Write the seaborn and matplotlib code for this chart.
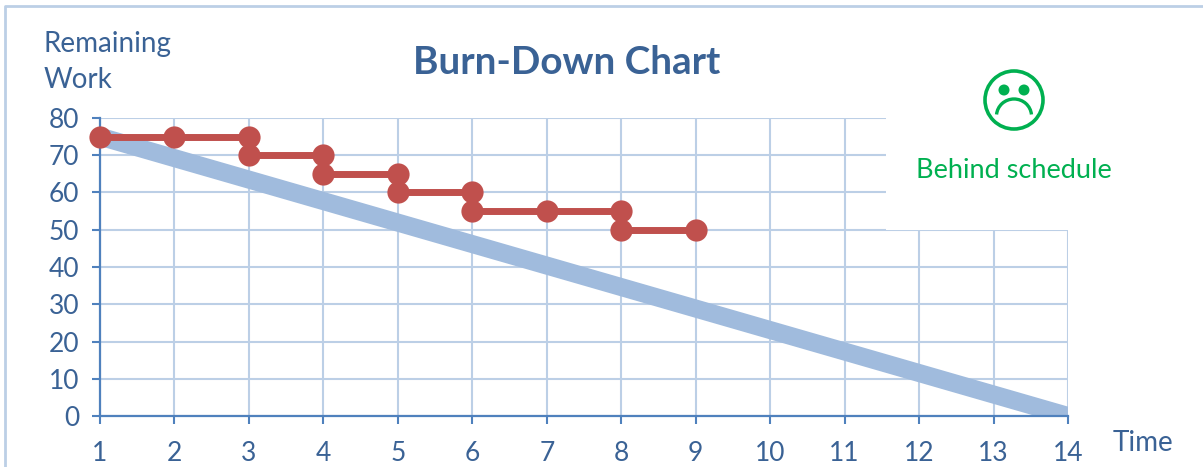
import matplotlib
matplotlib.use('Agg')
import matplotlib.pyplot as plt
from matplotlib.patches import Arc, Circle, Rectangle
import pandas as pd
import seaborn as sns

# Data
plan_time = [1, 14]
plan_work = [75, 0]
actual_time = [1, 2, 3, 3, 4, 4, 5, 5, 6, 6, 7, 8, 8, 9]
actual_work = [75, 75, 75, 70, 70, 65, 65, 60, 60, 55, 55, 55, 50, 50]
actual_step = [0, 0, 0, 1, 1, 2, 2, 3, 3, 4, 4, 4, 5, 5]
x_ticks = list(range(1, 15))
y_ticks = list(range(0, 81, 10))

W, H = 1203, 467
TEXT = '#3A6295'
AXIS = '#4F81BD'
GRID = '#BCCFE6'
GREEN = '#00B050'

sns.set_style('white')
plt.rcParams['font.family'] = ['Lato', 'DejaVu Sans']

plan = pd.DataFrame({'time': plan_time, 'work': plan_work})
actual = pd.DataFrame({'time': actual_time, 'work': actual_work, 'step': actual_step})

fig = plt.figure(figsize=(W / 100, H / 100), dpi=100)
ax = fig.add_axes([100 / W, 1 - 416 / H, 968 / W, 298 / H])

sns.lineplot(data=plan, x='time', y='work', color='#A0BBDD', linewidth=13, ax=ax,
             solid_capstyle='butt', zorder=2)
sns.lineplot(data=actual, x='time', y='work', units='step', estimator=None, color='#C0504D',
             linewidth=5, marker='o', markersize=16, markeredgewidth=0, ax=ax,
             clip_on=False, zorder=3)

ax.set_xlim(1, 14)
ax.set_ylim(0, 80)
ax.set_xticks(x_ticks)
ax.set_yticks(y_ticks)
ax.set_xlabel('')
ax.set_ylabel('')
ax.grid(True, color=GRID, linewidth=1.5, zorder=1)
ax.set_axisbelow(True)
for side in ['top', 'right']:
    ax.spines[side].set_visible(False)
for side in ['left', 'bottom']:
    ax.spines[side].set_color(AXIS)
    ax.spines[side].set_linewidth(1.6)
ax.tick_params(axis='both', length=6, width=1.5, color=AXIS, labelcolor=TEXT, labelsize=19,
               left=True, bottom=True)
ax.tick_params(axis='x', pad=12)
ax.tick_params(axis='y', pad=9)

# overlay in picture pixels for the frame, the white box and the smiley
over = fig.add_axes([0, 0, 1, 1], facecolor='none')
over.set_xlim(0, W)
over.set_ylim(H, 0)
over.axis('off')

over.add_patch(Rectangle((886, 7), 200, 222.5, facecolor='white', edgecolor='none', zorder=1))
over.plot([5, 5, W], [H, 6, 6], color=GRID, linewidth=2, zorder=2)

over.add_patch(Circle((1014, 100), 29, facecolor='none', edgecolor=GREEN, linewidth=2.6, zorder=3))
over.add_patch(Circle((1004, 90), 5.5, facecolor=GREEN, edgecolor='none', zorder=3))
over.add_patch(Circle((1024, 90), 5.5, facecolor=GREEN, edgecolor='none', zorder=3))
over.add_patch(Arc((1014, 116), 35, 34, theta1=185, theta2=355, color=GREEN, linewidth=2.4, zorder=3))

over.text(567, 62, 'Burn-Down Chart', color=TEXT, fontsize=27.8, fontweight='bold', ha='center', va='center')
over.text(44, 44, 'Remaining', color=TEXT, fontsize=20, ha='left', va='center')
over.text(44, 80, 'Work', color=TEXT, fontsize=20, ha='left', va='center')
over.text(1113, 443, 'Time', color=TEXT, fontsize=20, ha='left', va='center')
over.text(1014, 171, 'Behind schedule', color=GREEN, fontsize=19.5, ha='center', va='center')

fig.savefig('out.png', dpi=100)
